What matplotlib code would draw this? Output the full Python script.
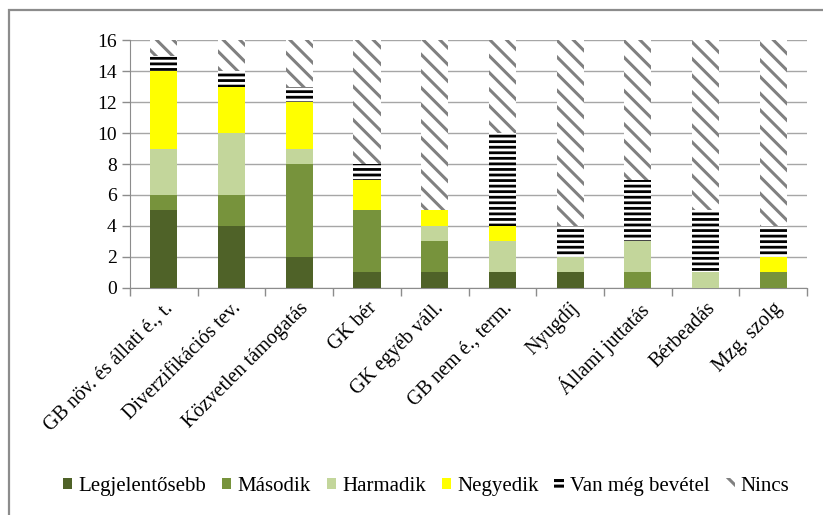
import matplotlib
matplotlib.use("Agg")
import matplotlib.pyplot as plt
import numpy as np
from matplotlib.patches import Rectangle, Patch

plt.rcParams['font.family'] = ['Liberation Serif', 'DejaVu Serif']

categories = ["GB növ. és állati é., t.", "Diverzifikációs tev.", "Közvetlen támogatás",
              "GK bér", "GK egyéb váll.", "GB nem é., term.", "Nyugdíj",
              "Állami juttatás", "Bérbeadás", "Mzg. szolg"]
legjelentosebb = [5, 4, 2, 1, 1, 1, 1, 0, 0, 0]
masodik = [1, 2, 6, 4, 2, 0, 0, 1, 0, 1]
harmadik = [3, 4, 1, 0, 1, 2, 1, 2, 1, 0]
negyedik = [5, 3, 3, 2, 1, 1, 0, 0, 0, 1]
van_meg = [1, 1, 1, 1, 0, 6, 2, 4, 4, 2]
nincs = [1, 2, 3, 8, 11, 6, 12, 9, 11, 12]

fig = plt.figure(figsize=(8.23, 5.15), dpi=100)
ax = fig.add_axes([0.158, 0.4408, 0.8226, 0.4815])

# outer frame of the chart
fig.patches.append(Rectangle((9 / 823, -0.1), 1.2, 1 - 10 / 515 + 0.1, transform=fig.transFigure,
                             fill=False, edgecolor='#8c8c8c', linewidth=1.6))

x = np.arange(len(categories))
w = 0.4
bottom = np.zeros(len(categories))
solid = [(legjelentosebb, '#4F6228', 'Legjelentősebb'),
         (masodik, '#77933C', 'Második'),
         (harmadik, '#C3D69B', 'Harmadik'),
         (negyedik, '#FFFF00', 'Negyedik')]
handles = []
for vals, col, lab in solid:
    ax.bar(x, vals, w, bottom=bottom, color=col, linewidth=0, zorder=3)
    bottom += np.array(vals)
    handles.append(Patch(facecolor=col, label=lab))

plt.rcParams['hatch.linewidth'] = 2.0
ax.bar(x, van_meg, w, bottom=bottom, facecolor='white', edgecolor='black',
       hatch='---', linewidth=0, zorder=3)
bottom += np.array(van_meg)
handles.append(Patch(facecolor='white', edgecolor='black', hatch='---', linewidth=0,
                     label='Van még bevétel'))

plt.rcParams['hatch.linewidth'] = 2.2
ax.bar(x, nincs, w, bottom=bottom, facecolor='white', edgecolor='#808080',
       hatch='\\\\', linewidth=0, zorder=3)
handles.append(Patch(facecolor='white', edgecolor='#808080', hatch='\\\\', linewidth=0,
                     label='Nincs'))

ax.set_xlim(-0.5, len(categories) - 0.5)
ax.set_ylim(0, 16)
ax.set_yticks(range(0, 17, 2))
ax.yaxis.grid(True, color='#a6a6a6', linewidth=1.0, zorder=0)
ax.set_axisbelow(True)
for s in ['top', 'right']:
    ax.spines[s].set_visible(False)
ax.spines['left'].set_color('#8c8c8c')
ax.spines['bottom'].set_color('#8c8c8c')
ax.tick_params(axis='y', colors='#8c8c8c', labelcolor='black', labelsize=14, length=6, width=1)

ax.set_xticks(np.arange(-0.5, len(categories) + 0.5, 1))
ax.set_xticklabels([])
ax.set_xticks(x, minor=True)
ax.set_xticklabels(categories, minor=True, rotation=45, ha='right', rotation_mode='anchor',
                   fontsize=14.5)
ax.tick_params(axis='x', which='major', colors='#8c8c8c', length=6, width=1)
ax.tick_params(axis='x', which='minor', length=0, pad=8)

fig.legend(handles=handles, loc='center', bbox_to_anchor=(0.518, 0.055), ncol=6, frameon=False,
           fontsize=15, handlelength=0.45, handleheight=0.45, handletextpad=0.3, columnspacing=0.75)

fig.savefig("out.png", dpi=100)
